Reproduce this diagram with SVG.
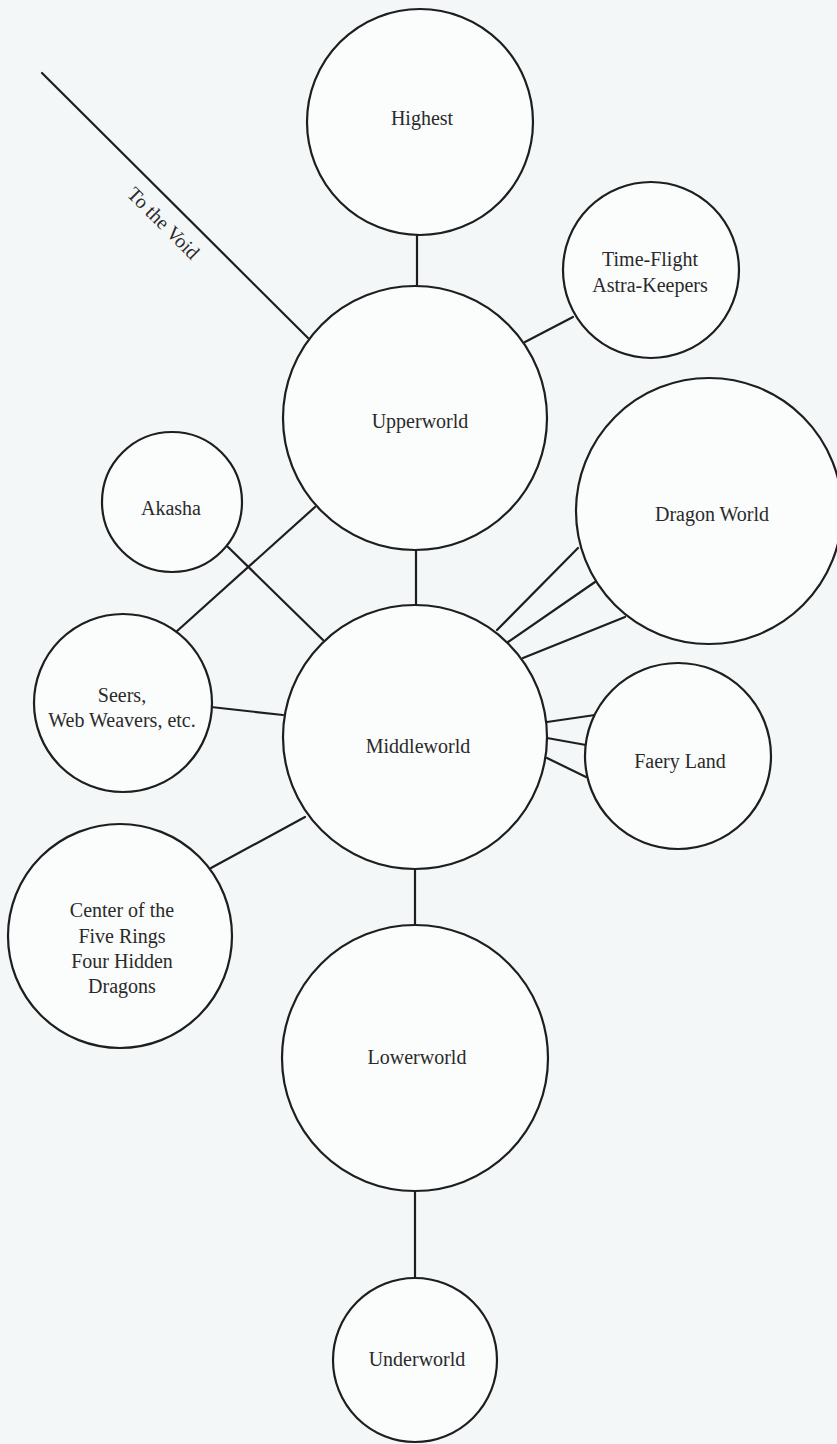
<svg xmlns="http://www.w3.org/2000/svg" width="837" height="1444" viewBox="0 0 837 1444">
<style>
.node circle{fill:#fbfcfc;stroke:#1e1e1e;stroke-width:2.2}
.node text,.lbl{font-family:"Liberation Serif","DejaVu Serif",serif;font-size:20px;fill:#2a2a2a;text-anchor:middle}
.conn line{stroke:#1e1e1e;stroke-width:2.2;stroke-linecap:round}
</style>
<rect width="837" height="1444" fill="#f4f7f7"/>
<g id="connectors" class="conn">
<line x1="417" y1="235" x2="417" y2="287"/>
<line x1="573" y1="317" x2="525" y2="342"/>
<line x1="42" y1="73" x2="308" y2="338"/>
<line x1="416" y1="550" x2="416" y2="605"/>
<line x1="315" y1="507" x2="176" y2="632"/>
<line x1="228" y1="547" x2="323" y2="640"/>
<line x1="211" y1="707" x2="283" y2="715"/>
<line x1="211" y1="868" x2="305" y2="817"/>
<line x1="497" y1="630" x2="578" y2="548"/>
<line x1="508" y1="642" x2="595" y2="582"/>
<line x1="523" y1="658" x2="625" y2="617"/>
<line x1="547" y1="722" x2="595" y2="715"/>
<line x1="547" y1="738" x2="586" y2="745"/>
<line x1="547" y1="758" x2="586" y2="777"/>
<line x1="415" y1="869" x2="415" y2="925"/>
<line x1="415" y1="1191" x2="415" y2="1278"/>
<text class="lbl" transform="translate(177.8,208.8) rotate(44.9)" x="0" y="27">To the Void</text>
</g>
<g id="highest" class="node"><circle cx="420" cy="122" r="113"/><text x="422" y="125">Highest</text></g>
<g id="time-flight" class="node"><circle cx="651" cy="270" r="88"/><text x="650" y="266">Time-Flight</text><text x="650" y="292">Astra-Keepers</text></g>
<g id="upperworld" class="node"><circle cx="415" cy="418" r="132"/><text x="420" y="428">Upperworld</text></g>
<g id="akasha" class="node"><circle cx="172" cy="502" r="70"/><text x="171" y="515">Akasha</text></g>
<g id="dragon-world" class="node"><circle cx="709" cy="511" r="133"/><text x="712" y="521">Dragon World</text></g>
<g id="seers" class="node"><circle cx="123" cy="703" r="89"/><text x="122" y="702">Seers,</text><text x="122" y="727">Web Weavers, etc.</text></g>
<g id="middleworld" class="node"><circle cx="415" cy="737" r="132"/><text x="418" y="753">Middleworld</text></g>
<g id="faery-land" class="node"><circle cx="678" cy="756" r="93"/><text x="680" y="768">Faery Land</text></g>
<g id="five-rings" class="node"><circle cx="120" cy="936" r="112"/><text x="122" y="917">Center of the</text><text x="122" y="943">Five Rings</text><text x="122" y="968">Four Hidden</text><text x="122" y="993">Dragons</text></g>
<g id="lowerworld" class="node"><circle cx="415" cy="1058" r="133"/><text x="417" y="1064">Lowerworld</text></g>
<g id="underworld" class="node"><circle cx="415" cy="1360" r="82"/><text x="417" y="1366">Underworld</text></g>
</svg>
